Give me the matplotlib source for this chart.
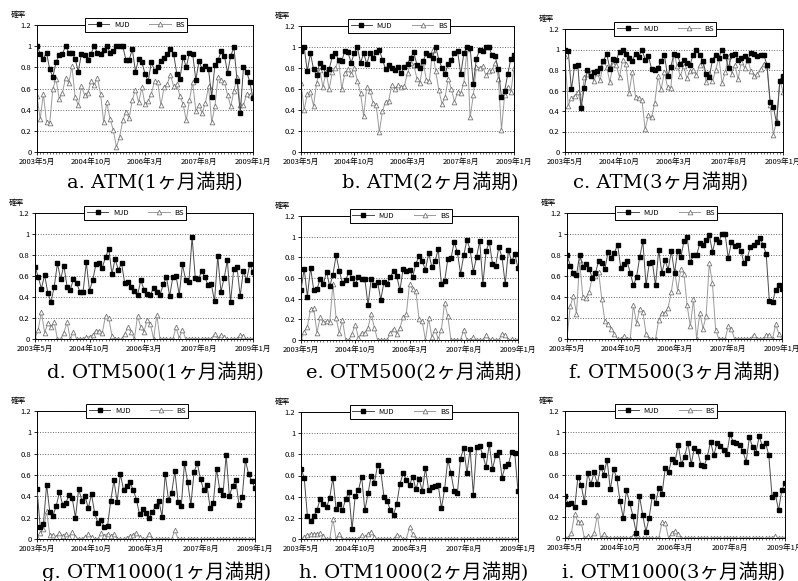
import numpy as np
import matplotlib
matplotlib.use("Agg")
import matplotlib.pyplot as plt

plt.rcParams['font.family'] = ['Noto Sans CJK JP', 'DejaVu Sans']

# 月次データ 2003年5月〜2009年1月 (69か月)
tick_labels = ["2003年5月", "2004年10月", "2006年3月", "2007年8月", "2009年1月"]
ytick_vals = [0, 0.2, 0.4, 0.6, 0.8, 1.0, 1.2]
ytick_text = ["0", "0.2", "0.4", "0.6", "0.8", "1", "1.2"]

a_mjd = [1.0, 0.93, 0.88, 0.94, 0.78, 0.71, 0.85, 0.92, 0.93, 1.0, 0.94, 0.94, 0.88, 0.76, 0.93, 0.92, 0.87, 0.93,
         1.0, 0.94, 0.93, 0.96, 1.0, 0.94, 0.95, 1.0, 1.0, 1.0, 0.87, 0.87, 0.97, 0.76, 0.88, 0.85, 0.74, 0.67, 0.85,
         0.77, 0.80, 0.86, 0.89, 0.93, 0.97, 0.93, 0.74, 0.69, 0.90, 0.80, 0.94, 0.93, 0.68, 0.86, 0.78, 0.81, 0.78,
         0.52, 0.82, 0.87, 0.95, 0.91, 0.75, 0.91, 0.99, 0.67, 0.37, 0.80, 0.76, 0.66, 0.51]
a_bs = [0.53, 0.31, 0.55, 0.28, 0.27, 0.60, 0.69, 0.50, 0.56, 0.70, 0.65, 0.81, 0.52, 0.44, 0.62, 0.54, 0.56, 0.67,
        0.63, 0.70, 0.55, 0.28, 0.47, 0.31, 0.21, 0.05, 0.14, 0.30, 0.38, 0.32, 0.49, 0.59, 0.47, 0.61, 0.45, 0.48,
        0.55, 0.67, 0.66, 0.44, 0.61, 0.64, 0.73, 0.62, 0.64, 0.53, 0.45, 0.30, 0.49, 0.66, 0.39, 0.44, 0.37, 0.46,
        0.62, 0.28, 0.43, 0.71, 0.68, 0.66, 0.54, 0.43, 0.58, 0.71, 0.44, 0.44, 0.55, 0.54, 0.52]

b_mjd = [0.96, 1.0, 0.77, 0.94, 0.79, 0.73, 0.85, 0.81, 0.74, 0.79, 0.91, 0.94, 0.88, 0.87, 0.96, 0.95, 0.85, 0.94,
         1.0, 0.85, 0.94, 0.84, 0.94, 0.90, 0.95, 0.97, 0.88, 0.79, 0.83, 0.80, 0.78, 0.81, 0.75, 0.81, 0.84, 0.90,
         0.95, 0.83, 0.80, 0.87, 0.94, 0.92, 0.90, 1.0, 0.88, 0.80, 0.74, 0.84, 0.88, 0.94, 0.96, 0.74, 0.94, 1.0,
         0.99, 0.65, 0.89, 0.97, 0.96, 1.0, 1.0, 0.92, 0.91, 0.79, 0.52, 0.58, 0.74, 0.89, 0.92]
b_bs = [0.66, 0.40, 0.55, 0.57, 0.44, 0.66, 0.78, 0.62, 0.76, 0.60, 0.76, 0.80, 0.88, 0.60, 0.75, 0.79, 0.74, 0.80,
        0.68, 0.56, 0.34, 0.62, 0.58, 0.47, 0.45, 0.19, 0.39, 0.48, 0.49, 0.64, 0.60, 0.64, 0.62, 0.63, 0.75, 0.85,
        0.83, 0.70, 0.66, 0.86, 0.69, 0.68, 0.97, 0.77, 0.59, 0.46, 0.52, 0.70, 0.60, 0.48, 0.57, 0.56, 0.66, 0.98,
        0.33, 0.54, 0.81, 0.80, 0.82, 0.73, 0.77, 0.78, 0.85, 0.70, 0.21, 0.54, 0.62, 0.57, 0.80]

c_mjd = [1.0, 0.99, 0.61, 0.84, 0.85, 0.43, 0.62, 0.80, 0.74, 0.78, 0.79, 0.82, 0.89, 0.96, 0.81, 0.91, 0.90, 0.98,
         1.0, 0.96, 0.92, 0.89, 0.96, 0.93, 1.0, 0.90, 0.94, 0.81, 0.80, 0.82, 0.89, 0.95, 0.74, 0.83, 0.96, 0.95,
         0.86, 0.90, 0.87, 0.85, 0.95, 1.0, 0.95, 0.89, 0.76, 0.73, 0.90, 0.95, 0.92, 1.0, 0.94, 0.82, 0.95, 0.96,
         0.90, 0.92, 0.94, 0.90, 0.97, 0.96, 0.94, 0.95, 0.95, 0.85, 0.49, 0.44, 0.28, 0.69, 0.74]
c_bs = [0.94, 0.45, 0.53, 0.55, 0.59, 0.46, 0.73, 0.76, 0.78, 0.69, 0.77, 0.70, 0.89, 0.83, 0.68, 0.86, 0.85, 0.73,
        0.90, 0.86, 0.58, 0.78, 0.54, 0.53, 0.51, 0.22, 0.36, 0.34, 0.48, 0.74, 0.61, 0.78, 0.63, 0.62, 0.96, 0.84,
        0.74, 0.84, 0.72, 0.79, 0.80, 0.75, 0.85, 0.89, 0.68, 0.77, 0.69, 0.80, 0.92, 0.67, 0.78, 0.94, 0.76, 0.85,
        0.71, 0.88, 0.82, 0.90, 0.79, 0.74, 0.76, 0.81, 0.86, 0.84, 0.46, 0.17, 0.30, 0.70, 0.59]

d_mjd = [0.69, 0.59, 0.48, 0.61, 0.44, 0.35, 0.50, 0.72, 0.57, 0.70, 0.50, 0.47, 0.57, 0.53, 0.45, 0.45, 0.73, 0.46,
         0.56, 0.71, 0.72, 0.68, 0.78, 0.86, 0.62, 0.76, 0.66, 0.72, 0.53, 0.54, 0.50, 0.46, 0.42, 0.56, 0.47, 0.43,
         0.42, 0.49, 0.45, 0.42, 0.52, 0.59, 0.41, 0.59, 0.60, 0.42, 0.71, 0.56, 0.54, 0.97, 0.58, 0.57, 0.65, 0.59,
         0.51, 0.52, 0.36, 0.79, 0.45, 0.58, 0.75, 0.35, 0.67, 0.69, 0.41, 0.65, 0.56, 0.71, 0.64]
d_bs = [0.0, 0.09, 0.26, 0.06, 0.15, 0.11, 0.16, 0.0, 0.0, 0.06, 0.16, 0.0, 0.07, 0.0, 0.0, 0.0, 0.02, 0.02,
        0.04, 0.08, 0.08, 0.06, 0.22, 0.20, 0.03, 0.0, 0.0, 0.0, 0.05, 0.11, 0.07, 0.0, 0.22, 0.11, 0.07, 0.18,
        0.14, 0.0, 0.23, 0.0, 0.0, 0.0, 0.0, 0.0, 0.11, 0.01, 0.09, 0.0, 0.0, 0.0, 0.0, 0.0, 0.0, 0.0,
        0.0, 0.0, 0.05, 0.0, 0.04, 0.02, 0.0, 0.0, 0.0, 0.0, 0.04, 0.03, 0.0, 0.0, 0.0]

e_mjd = [0.48, 0.69, 0.42, 0.70, 0.48, 0.49, 0.59, 0.54, 0.66, 0.52, 0.63, 0.82, 0.67, 0.55, 0.58, 0.66, 0.60, 0.54,
         0.61, 0.59, 0.59, 0.34, 0.59, 0.53, 0.56, 0.39, 0.56, 0.54, 0.61, 0.67, 0.62, 0.48, 0.69, 0.67, 0.68, 0.61,
         0.74, 0.81, 0.76, 0.68, 0.84, 0.71, 0.76, 0.88, 0.54, 0.57, 0.78, 0.79, 0.95, 0.85, 0.64, 0.82, 0.97, 0.87,
         0.66, 0.80, 0.96, 0.54, 0.86, 0.95, 0.74, 0.72, 0.90, 0.80, 0.54, 0.87, 0.76, 0.83, 0.70]
e_bs = [0.0, 0.08, 0.13, 0.30, 0.31, 0.07, 0.22, 0.17, 0.18, 0.17, 0.54, 0.21, 0.07, 0.19, 0.0, 0.0, 0.06, 0.15,
        0.02, 0.07, 0.07, 0.12, 0.25, 0.12, 0.0, 0.0, 0.0, 0.0, 0.07, 0.11, 0.06, 0.12, 0.22, 0.25, 0.54, 0.49,
        0.47, 0.20, 0.18, 0.0, 0.21, 0.03, 0.10, 0.01, 0.10, 0.36, 0.23, 0.0, 0.0, 0.0, 0.0, 0.10, 0.0, 0.0,
        0.03, 0.0, 0.0, 0.0, 0.05, 0.0, 0.01, 0.0, 0.0, 0.06, 0.05, 0.0, 0.01, 0.0, 0.0]

f_mjd = [0.80, 0.70, 0.63, 0.61, 0.80, 0.69, 0.71, 0.67, 0.58, 0.63, 0.74, 0.72, 0.67, 0.83, 0.77, 0.82, 0.90, 0.68,
         0.71, 0.74, 0.63, 0.51, 0.59, 0.78, 0.93, 0.51, 0.72, 0.73, 0.51, 0.85, 0.63, 0.75, 0.66, 0.84, 0.63, 0.84,
         0.78, 0.93, 0.97, 0.73, 0.80, 0.80, 0.91, 0.90, 0.94, 0.99, 0.83, 0.95, 0.92, 1.0, 1.0, 0.77, 0.92, 0.89,
         0.90, 0.84, 0.72, 0.77, 0.88, 0.90, 0.92, 0.96, 0.90, 0.81, 0.36, 0.35, 0.47, 0.51, 0.48]
f_bs = [0.0, 0.31, 0.41, 0.24, 0.75, 0.40, 0.39, 0.45, 0.59, 0.60, 0.64, 0.38, 0.17, 0.14, 0.10, 0.05, 0.0, 0.0,
        0.03, 0.0, 0.0, 0.32, 0.15, 0.29, 0.26, 0.05, 0.0, 0.0, 0.0, 0.18, 0.25, 0.25, 0.30, 0.45, 0.65, 0.46,
        0.67, 0.62, 0.32, 0.12, 0.38, 0.0, 0.25, 0.10, 0.22, 0.72, 0.53, 0.09, 0.0, 0.0, 0.0, 0.12, 0.10, 0.0,
        0.0, 0.0, 0.0, 0.0, 0.0, 0.04, 0.0, 0.0, 0.0, 0.04, 0.04, 0.0, 0.14, 0.05, 0.0]

g_mjd = [0.47, 0.11, 0.14, 0.51, 0.25, 0.22, 0.31, 0.44, 0.32, 0.34, 0.41, 0.38, 0.20, 0.47, 0.36, 0.40, 0.29, 0.42,
         0.24, 0.15, 0.18, 0.11, 0.12, 0.36, 0.55, 0.35, 0.61, 0.46, 0.50, 0.53, 0.46, 0.37, 0.23, 0.28, 0.24, 0.20,
         0.25, 0.31, 0.36, 0.21, 0.61, 0.37, 0.43, 0.64, 0.35, 0.31, 0.71, 0.53, 0.32, 0.63, 0.71, 0.56, 0.46, 0.51,
         0.29, 0.34, 0.66, 0.46, 0.41, 0.79, 0.40, 0.50, 0.55, 0.32, 0.39, 0.74, 0.61, 0.54, 0.48]
g_bs = [0.02, 0.06, 0.09, 0.26, 0.04, 0.04, 0.02, 0.06, 0.03, 0.05, 0.02, 0.07, 0.02, 0.0, 0.0, 0.02, 0.05, 0.02,
        0.0, 0.0, 0.06, 0.03, 0.05, 0.03, 0.05, 0.0, 0.0, 0.0, 0.01, 0.03, 0.04, 0.06, 0.02, 0.0, 0.0, 0.05,
        0.0, 0.0, 0.0, 0.0, 0.0, 0.0, 0.0, 0.08, 0.0, 0.0, 0.0, 0.0, 0.0, 0.0, 0.0, 0.0, 0.0, 0.0,
        0.0, 0.0, 0.0, 0.0, 0.0, 0.0, 0.0, 0.0, 0.0, 0.0, 0.0, 0.0, 0.0, 0.0, 0.0]

h_mjd = [0.66, 0.58, 0.22, 0.17, 0.22, 0.27, 0.38, 0.33, 0.30, 0.39, 0.58, 0.28, 0.33, 0.27, 0.38, 0.44, 0.09, 0.41,
         0.46, 0.59, 0.27, 0.43, 0.60, 0.53, 0.70, 0.64, 0.40, 0.36, 0.27, 0.23, 0.33, 0.52, 0.62, 0.56, 0.51, 0.59,
         0.47, 0.57, 0.45, 0.67, 0.46, 0.49, 0.50, 0.51, 0.29, 0.47, 0.75, 0.62, 0.45, 0.43, 0.76, 0.86, 0.62, 0.85,
         0.42, 0.87, 0.88, 0.79, 0.68, 0.90, 0.66, 0.79, 0.82, 0.58, 0.69, 0.71, 0.82, 0.81, 0.45]
h_bs = [0.0, 0.02, 0.04, 0.05, 0.05, 0.05, 0.06, 0.03, 0.0, 0.0, 0.19, 0.0, 0.05, 0.0, 0.0, 0.0, 0.0, 0.0,
        0.0, 0.04, 0.02, 0.05, 0.07, 0.02, 0.0, 0.0, 0.0, 0.0, 0.0, 0.0, 0.04, 0.02, 0.0, 0.0, 0.11, 0.05,
        0.0, 0.0, 0.0, 0.0, 0.0, 0.0, 0.0, 0.0, 0.0, 0.0, 0.0, 0.0, 0.0, 0.0, 0.0, 0.0, 0.0, 0.0,
        0.0, 0.0, 0.0, 0.0, 0.0, 0.0, 0.0, 0.0, 0.0, 0.0, 0.0, 0.0, 0.0, 0.0, 0.0]

i_mjd = [0.40, 0.32, 0.33, 0.29, 0.58, 0.50, 0.34, 0.61, 0.51, 0.62, 0.51, 0.67, 0.60, 0.74, 0.46, 0.65, 0.57, 0.35,
         0.19, 0.45, 0.33, 0.21, 0.05, 0.40, 0.22, 0.06, 0.19, 0.40, 0.33, 0.47, 0.42, 0.66, 0.62, 0.75, 0.72, 0.88,
         0.70, 0.77, 0.90, 0.70, 0.85, 0.82, 0.69, 0.68, 0.77, 0.91, 0.78, 0.90, 0.87, 0.83, 0.79, 0.98, 0.91, 0.90,
         0.88, 0.82, 0.72, 0.95, 0.86, 0.80, 0.96, 0.87, 0.90, 0.78, 0.39, 0.42, 0.26, 0.45, 0.52]
i_bs = [0.0, 0.0, 0.05, 0.23, 0.15, 0.15, 0.0, 0.02, 0.0, 0.05, 0.22, 0.0, 0.04, 0.0, 0.0, 0.0, 0.0, 0.0,
        0.0, 0.0, 0.0, 0.02, 0.0, 0.0, 0.0, 0.0, 0.0, 0.0, 0.0, 0.0, 0.15, 0.14, 0.0, 0.05, 0.07, 0.04,
        0.0, 0.0, 0.0, 0.0, 0.0, 0.0, 0.0, 0.0, 0.0, 0.0, 0.0, 0.0, 0.0, 0.0, 0.0, 0.0, 0.0, 0.0,
        0.0, 0.0, 0.0, 0.0, 0.0, 0.0, 0.0, 0.0, 0.0, 0.0, 0.0, 0.02, 0.0, 0.0, 0.0]

captions = ["a. ATM(1ヶ月満期)", "b. ATM(2ヶ月満期)", "c. ATM(3ヶ月満期)",
            "d. OTM500(1ヶ月満期)", "e. OTM500(2ヶ月満期)", "f. OTM500(3ヶ月満期)",
            "g. OTM1000(1ヶ月満期)", "h. OTM1000(2ヶ月満期)", "i. OTM1000(3ヶ月満期)"]
mjd_all = [a_mjd, b_mjd, c_mjd, d_mjd, e_mjd, f_mjd, g_mjd, h_mjd, i_mjd]
bs_all = [a_bs, b_bs, c_bs, d_bs, e_bs, f_bs, g_bs, h_bs, i_bs]

W, H = 798, 581
# 各パネルの位置 (左, 右, 上, 下) ピクセル
boxes = [(37, 253, 25, 152), (301, 514, 26, 152), (565, 783, 29, 152),
         (35, 253, 213, 339), (301, 518, 216, 340), (567, 782, 213, 339),
         (37, 255, 411, 539), (301, 518, 412, 539), (565, 785, 411, 538)]
cap_pos = [(155, 182), (430, 182), (661, 182),
           (155, 372), (414, 372), (674, 372),
           (157, 572), (414, 572), (674, 572)]

fig = plt.figure(figsize=(W / 100, H / 100), dpi=100)

for k in range(9):
    l, r, t, b = boxes[k]
    ax = fig.add_axes([l / W, 1 - b / H, (r - l) / W, (b - t) / H])
    mjd = mjd_all[k]
    bs = bs_all[k]
    ax.plot(np.arange(len(bs)), bs, color='#9a9a9a', lw=0.7, marker='^', ms=3.4,
            mfc='white', mec='#777777', mew=0.6, label='BS', zorder=2)
    ax.plot(np.arange(len(mjd)), mjd, color='#4a4a4a', lw=0.7, marker='s', ms=2.6,
            mfc='black', mec='black', label='MJD', zorder=3)
    ax.set_xlim(0, 68)
    ax.set_ylim(0, 1.2)
    ax.set_yticks(ytick_vals)
    ax.set_yticklabels(ytick_text)
    ax.set_xticks(np.linspace(0, 68, 5))
    ax.set_xticklabels(tick_labels)
    ax.set_xticks(np.arange(0, 69, 1), minor=True)
    ax.tick_params(axis='both', which='major', labelsize=5.5, length=2, width=0.6, pad=2)
    ax.tick_params(axis='x', which='minor', length=1.5, width=0.4)
    ax.yaxis.grid(True, linestyle=':', color='#666666', lw=0.7)
    for s in ax.spines.values():
        s.set_linewidth(0.7)
        s.set_color('black')
    h_, lab = ax.get_legend_handles_labels()
    leg = ax.legend(h_[::-1], lab[::-1], loc='center', bbox_to_anchor=(0.46, 1.0), ncol=2,
                    fontsize=5.5, frameon=True, fancybox=False, borderpad=0.35,
                    handlelength=2.8, handletextpad=0.6, columnspacing=2.6,
                    borderaxespad=0)
    leg.get_frame().set_edgecolor('black')
    leg.get_frame().set_linewidth(0.7)
    leg.get_frame().set_facecolor('white')
    leg.get_frame().set_alpha(1)
    fig.text((l - 19) / W, 1 - (t - 10) / H, "確率", fontsize=5.5, ha='center', va='center')
    cx, cy = cap_pos[k]
    fig.text(cx / W, 1 - cy / H, captions[k], fontsize=14, ha='center', va='center',
             family=['DejaVu Serif', 'Noto Sans CJK JP'])

fig.savefig("out.png", dpi=100)
